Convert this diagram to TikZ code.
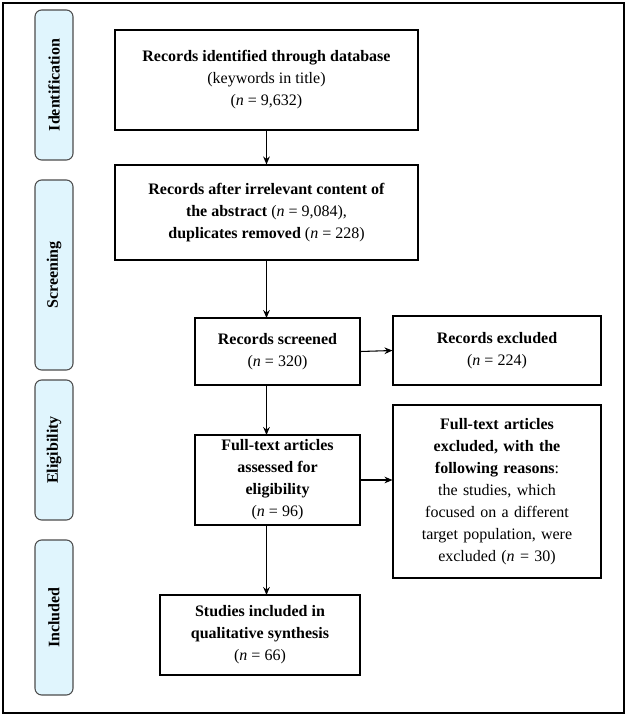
\documentclass[tikz,border=0pt]{standalone}
\usepackage{fontspec}
\setmainfont{Liberation Serif}
\usetikzlibrary{arrows.meta}
\begin{document}
\begin{tikzpicture}[x=0.75pt,y=-0.75pt,
  box/.style={draw,line width=0.8pt,align=center,font=\fontsize{12}{16.5}\selectfont,inner sep=3pt},
  side/.style={draw=black!70,fill=cyan!12,rounded corners=5pt,line width=0.8pt},
  sidetxt/.style={rotate=90,font=\fontsize{12}{14}\selectfont\bfseries},
  arr/.style={-{Stealth[length=6pt,width=5pt]},line width=0.8pt}]
\useasboundingbox (0,0) rectangle (627,717);
\draw[line width=0.8pt] (3,3) rectangle (624,713);
\foreach \n/\a/\b/\t in {id/10/160/Identification, sc/180/370/Screening, el/380/520/Eligibility, in/540/695/Included}{
  \draw[side] (35,\a) rectangle (73,\b);
  \node[sidetxt] (\n) at (54,{(\a+\b)/2}) {\t};
}
\node[box,minimum width=303*0.75pt,minimum height=100*0.75pt] (b1) at (266.5,80)
 {\textbf{Records identified through database}\\(keywords in title)\\(\textit{n} = 9,632)};
\node[box,minimum width=303*0.75pt,minimum height=95*0.75pt] (b2) at (266.5,212.5)
 {\textbf{Records after irrelevant content of}\\\textbf{the abstract} (\textit{n} = 9,084),\\\textbf{duplicates removed} (\textit{n} = 228)};
\node[box,minimum width=165*0.75pt,minimum height=67*0.75pt] (b3) at (277.5,351.5)
 {\textbf{Records screened}\\(\textit{n} = 320)};
\node[box,minimum width=208*0.75pt,minimum height=69*0.75pt] (b4) at (497,350.5)
 {\textbf{Records excluded}\\(\textit{n} = 224)};
\node[box,minimum width=165*0.75pt,minimum height=90*0.75pt] (b5) at (277.5,480)
 {\textbf{Full-text articles}\\\textbf{assessed for}\\\textbf{eligibility}\\(\textit{n} = 96)};
\node[box,minimum width=208*0.75pt,minimum height=173*0.75pt,text width=195*0.75pt] (b6) at (497,491.5)
 {\textbf{Full-text articles}\\\textbf{excluded, with the}\\\textbf{following reasons}:\\the studies, which\\focused on a different\\target population, were\\excluded (\textit{n} = 30)};
\node[box,minimum width=200*0.75pt,minimum height=80*0.75pt] (b7) at (260,635)
 {\textbf{Studies included in}\\\textbf{qualitative synthesis}\\(\textit{n} = 66)};
\draw[arr] (b1.south) -- (b2.south |- b2.north);
\draw[arr] (266.5,260) -- (266.5,318);
\draw[arr] (266.5,385) -- (266.5,435);
\draw[arr] (266.5,525) -- (266.5,595);
\draw[arr] (b3.east) -- (b4.west);
\draw[arr] (b5.east) -- (b5.east -| b6.west);
\end{tikzpicture}
\end{document}
